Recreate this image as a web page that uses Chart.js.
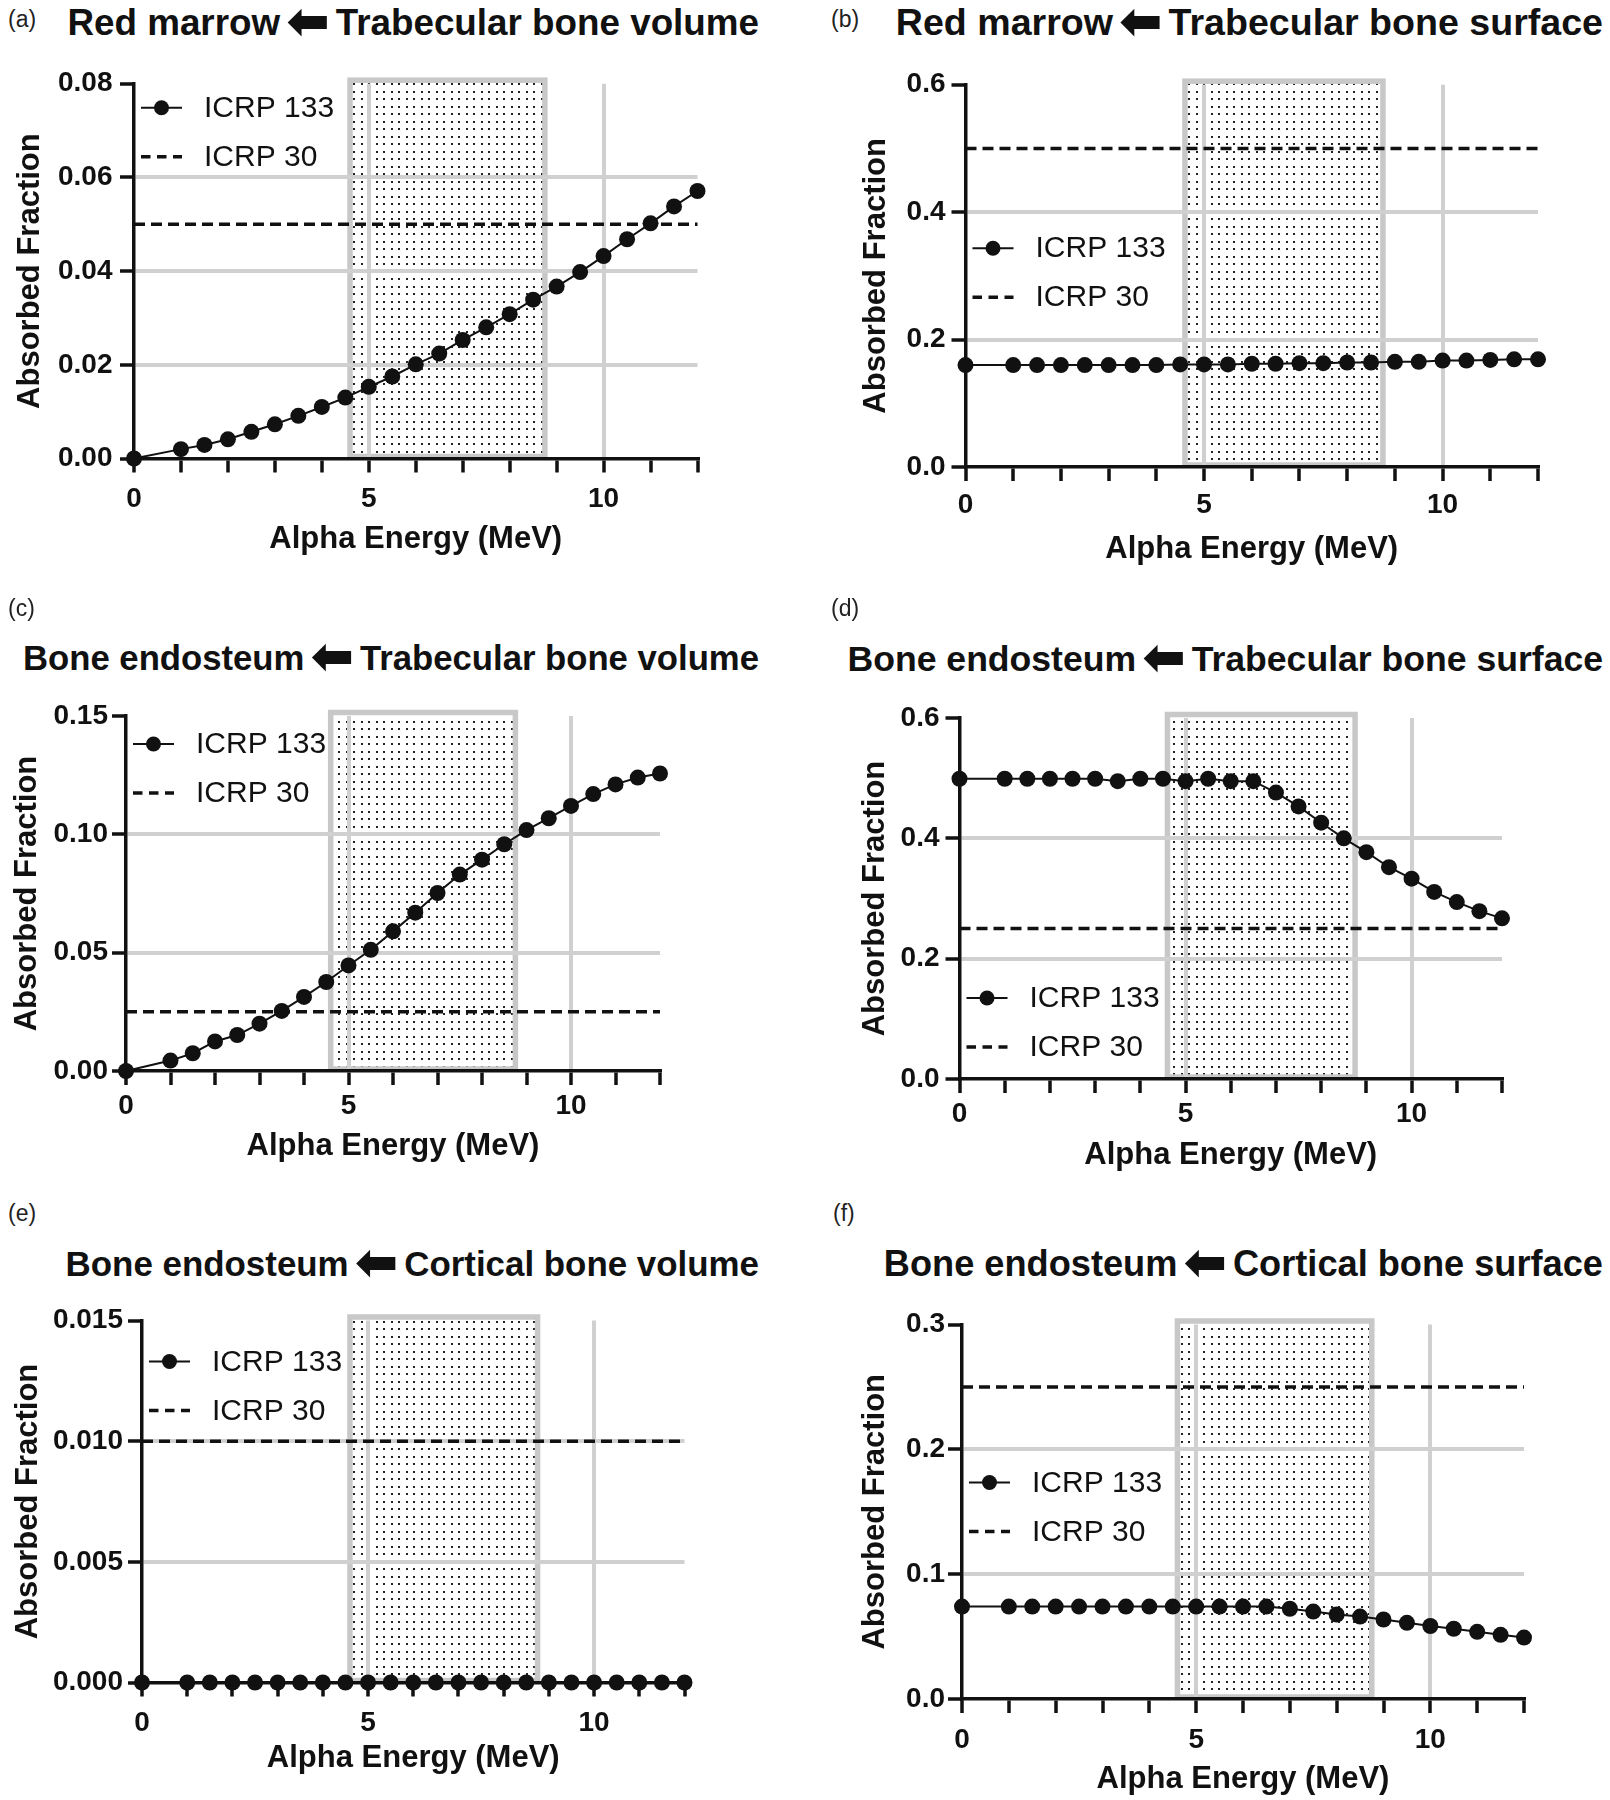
<!DOCTYPE html>
<html>
<head>
<meta charset="utf-8">
<title>Absorbed fractions, ICRP 133 vs ICRP 30</title>
<script src="https://cdn.jsdelivr.net/npm/chart.js@4.4.1/dist/chart.umd.min.js"></script>
<style>
  html, body { margin: 0; padding: 0; background: #fff; }
  body { width: 1610px; height: 1800px; position: relative; overflow: hidden;
         font-family: 'Liberation Sans', Arial, sans-serif; color: #111; }
  canvas { position: absolute; }
  .ttl { position: absolute; font-weight: bold; line-height: normal; white-space: nowrap; }
  .arr { font-family: 'DejaVu Sans'; font-size: 52px; line-height: 0; margin: 0 6px; position: relative; top: 4px; }
  .tag { position: absolute; font-size: 23px; line-height: normal; color: #222; }
</style>
</head>
<body>
<script>
// alpha energies (MeV) shared by every ICRP 133 series
const energies = [0, 1, 1.5, 2, 2.5, 3, 3.5, 4, 4.5, 5, 5.5, 6, 6.5, 7, 7.5, 8, 8.5, 9, 9.5, 10, 10.5, 11, 11.5, 12];

// ICRP 133 absorbed fractions, one array per panel
const rmTbVolume133 = [0, 0.0020, 0.0029, 0.0041, 0.0057, 0.0073, 0.0091, 0.0110, 0.0130, 0.0153, 0.0175, 0.0201,
  0.0224, 0.0253, 0.0280, 0.0308, 0.0339, 0.0367, 0.0398, 0.0432, 0.0468, 0.0502, 0.0538, 0.0571];
const rmTbSurface133 = [0.160, 0.160, 0.160, 0.160, 0.160, 0.160, 0.160, 0.160, 0.161, 0.161, 0.161, 0.162,
  0.162, 0.163, 0.163, 0.164, 0.164, 0.165, 0.165, 0.167, 0.167, 0.168, 0.169, 0.169];
const beTbVolume133 = [0, 0.0044, 0.0075, 0.0125, 0.0152, 0.0200, 0.0254, 0.0313, 0.0376, 0.0446, 0.0512, 0.0590,
  0.0669, 0.0752, 0.0830, 0.0893, 0.0958, 0.1018, 0.1068, 0.1120, 0.1170, 0.1211, 0.1240, 0.1257];
const beTbSurface133 = [0.499, 0.499, 0.499, 0.499, 0.499, 0.499, 0.495, 0.499, 0.499, 0.495, 0.499, 0.495,
  0.495, 0.476, 0.453, 0.426, 0.400, 0.377, 0.352, 0.333, 0.311, 0.294, 0.279, 0.267];
const beCbVolume133 = [0, 0, 0, 0, 0, 0, 0, 0, 0, 0, 0, 0, 0, 0, 0, 0, 0, 0, 0, 0, 0, 0, 0, 0];
const beCbSurface133 = [0.074, 0.074, 0.074, 0.074, 0.074, 0.074, 0.074, 0.074, 0.074, 0.074, 0.074, 0.074,
  0.074, 0.0723, 0.0700, 0.0677, 0.0660, 0.0637, 0.0610, 0.0585, 0.0563, 0.0538, 0.0514, 0.0492];

// ICRP 30 constant values, panels a-f
const icrp30Levels = [0.05, 0.5, 0.025, 0.25, 0.01, 0.25];

// y axis range / tick labels, panels a-f
const yMax = [0.08, 0.6, 0.15, 0.6, 0.015, 0.3];
const yStep = [0.02, 0.2, 0.05, 0.2, 0.005, 0.1];
const yDecimals = [2, 1, 2, 1, 3, 1];

// x axis: 0..12 MeV, minor ticks every 1, labels at 0, 5, 10
const xMin = 0, xMax = 12;
const xLabelled = [0, 5, 10];

// shaded alpha-energy window (MeV)
const alphaWindow = [4.6, 8.75];

const panelTags = ['(a)', '(b)', '(c)', '(d)', '(e)', '(f)'];
const titleFrom = ['Red marrow', 'Red marrow', 'Bone endosteum', 'Bone endosteum', 'Bone endosteum', 'Bone endosteum'];
const titleTo = ['Trabecular bone volume', 'Trabecular bone surface', 'Trabecular bone volume',
  'Trabecular bone surface', 'Cortical bone volume', 'Cortical bone surface'];
const seriesNames = ['ICRP 133', 'ICRP 30'];

const series133 = [rmTbVolume133, rmTbSurface133, beTbVolume133, beTbSurface133, beCbVolume133, beCbSurface133];

// page layout (pixels), not data
const panelBoxes = [
  { ox: 0,   oy: 0,    L: 134,   R: 697.5, T: 83.7,  B: 458.5, yTitleX: 30,   xTitleDy: 80.5, xPad: 9.8,  yPad: 7.5, legDy: 24,    titleR: 759,  titleBase: 35,     titleSize: 36.8, tagX: 8,   tagBase: 27 },
  { ox: 805, oy: 0,    L: 160.5, R: 733,   T: 84.7,  B: 467,   yTitleX: 71,   xTitleDy: 82,   xPad: 7.8,  yPad: 6,   legDy: 163.5, titleR: 1603, titleBase: 35,     titleSize: 37.6, tagX: 831, tagBase: 27 },
  { ox: 0,   oy: 600,  L: 126,   R: 660,   T: 116,   B: 471,   yTitleX: 27.6, xTitleDy: 75,   xPad: 4.8,  yPad: 4,   legDy: 28,    titleR: 759,  titleBase: 670.5,  titleSize: 34.7, tagX: 8,   tagBase: 616 },
  { ox: 805, oy: 600,  L: 154.5, R: 697,   T: 118,   B: 479,   yTitleX: 70,   xTitleDy: 76,   xPad: 4.8,  yPad: 6,   legDy: 280,   titleR: 1603, titleBase: 671,    titleSize: 35.6, tagX: 831, tagBase: 616 },
  { ox: 0,   oy: 1200, L: 142,   R: 684.5, T: 120.5, B: 482.5, yTitleX: 28,   xTitleDy: 75.5, xPad: 9.8,  yPad: 5,   legDy: 41,    titleR: 759,  titleBase: 1275.5, titleSize: 34.9, tagX: 8,   tagBase: 1221 },
  { ox: 805, oy: 1200, L: 157,   R: 719,   T: 124.5, B: 499,   yTitleX: 70,   xTitleDy: 80,   xPad: 10.8, yPad: 3,   legDy: 158,   titleR: 1603, titleBase: 1276,   titleSize: 36.2, tagX: 833, tagBase: 1221 }
];

const PANEL_W = 805, PANEL_H = 600;
const ink = '#111';
const gridGray = '#d0d0d0';
const boxGray = '#c8c8c8';
const FONT = "'Liberation Sans', Arial, sans-serif";
const AXIS_TITLE = 31, TICK_FONT = 28;

Chart.defaults.font.family = FONT;
Chart.defaults.color = ink;

// dotted fill for the energy window
function makeDots() {
  const c = document.createElement('canvas');
  c.width = 15; c.height = 15;
  const g = c.getContext('2d');
  g.fillStyle = '#222';
  [[1, 1], [8, 1], [1, 8], [8, 8]].forEach(([x, y]) => g.fillRect(x, y, 2, 2));
  return c;
}
const dotTile = makeDots();

const bandPlugin = {
  id: 'band',
  beforeDraw(chart) {
    const { ctx, chartArea, scales } = chart;
    const x1 = scales.x.getPixelForValue(alphaWindow[0]);
    const x2 = scales.x.getPixelForValue(alphaWindow[1]);
    const top = chartArea.top - 3.5;
    const bot = chartArea.bottom - 2;
    ctx.save();
    ctx.fillStyle = ctx.createPattern(dotTile, 'repeat');
    ctx.fillRect(x1, top, x2 - x1, bot - top);
    ctx.strokeStyle = boxGray;
    ctx.lineWidth = 5.5;
    ctx.strokeRect(x1, top, x2 - x1, bot - top);
    ctx.restore();
  }
};

const legendPlugin = {
  id: 'inlineLegend',
  afterDatasetsDraw(chart, args, opts) {
    const { ctx, chartArea } = chart;
    const x0 = chartArea.left;
    const y0 = chartArea.top + opts.dy;
    const y1 = y0 + 49;
    ctx.save();
    ctx.strokeStyle = ink;
    ctx.fillStyle = ink;
    ctx.lineWidth = 2;
    ctx.beginPath(); ctx.moveTo(x0 + 7, y0); ctx.lineTo(x0 + 48, y0); ctx.stroke();
    ctx.beginPath(); ctx.arc(x0 + 27.5, y0, 7.5, 0, Math.PI * 2); ctx.fill();
    ctx.lineWidth = 3.5;
    ctx.setLineDash([9.5, 6.5]);
    ctx.beginPath(); ctx.moveTo(x0 + 7, y1); ctx.lineTo(x0 + 48, y1); ctx.stroke();
    ctx.setLineDash([]);
    ctx.font = '30px ' + FONT;
    ctx.textAlign = 'left';
    ctx.textBaseline = 'middle';
    ctx.fillText(chart.data.datasets[0].label, x0 + 70, y0 + 1);
    ctx.fillText(chart.data.datasets[1].label, x0 + 70, y1 + 1);
    ctx.restore();
  }
};

panelBoxes.forEach((p, i) => {
  // panel tag
  const tag = document.createElement('div');
  tag.className = 'tag';
  tag.textContent = panelTags[i];
  tag.style.left = p.tagX + 'px';
  tag.style.top = (p.tagBase - 20.8) + 'px';
  document.body.appendChild(tag);

  // panel title
  const t = document.createElement('div');
  t.className = 'ttl';
  t.style.fontSize = p.titleSize + 'px';
  t.appendChild(document.createTextNode(titleFrom[i]));
  const arr = document.createElement('span');
  arr.className = 'arr';
  arr.textContent = '\u2B05';
  t.appendChild(arr);
  t.appendChild(document.createTextNode(titleTo[i]));
  t.style.right = (1610 - p.titleR) + 'px';
  t.style.top = (p.titleBase - 0.905 * p.titleSize) + 'px';
  document.body.appendChild(t);

  const cv = document.createElement('canvas');
  cv.width = PANEL_W; cv.height = PANEL_H;
  cv.style.left = p.ox + 'px';
  cv.style.top = p.oy + 'px';
  document.body.appendChild(cv);

  const half = AXIS_TITLE * 1.2 / 2;
  const padLeft = p.yTitleX - half;
  const xScaleH = p.xTitleDy + half;
  const ymax = yMax[i];

  new Chart(cv, {
    type: 'line',
    data: {
      datasets: [
        {
          label: seriesNames[0],
          data: energies.map((e, k) => ({ x: e, y: series133[i][k] })),
          borderColor: ink,
          backgroundColor: ink,
          borderWidth: 2,
          pointRadius: 8,
          pointBorderWidth: 0,
          pointBackgroundColor: ink,
          tension: 0,
          clip: false
        },
        {
          label: seriesNames[1],
          data: [{ x: xMin, y: icrp30Levels[i] }, { x: xMax, y: icrp30Levels[i] }],
          borderColor: ink,
          borderWidth: 3.5,
          borderDash: [11, 6],
          pointRadius: 0,
          clip: false
        }
      ]
    },
    options: {
      responsive: false,
      animation: false,
      devicePixelRatio: 1,
      events: [],
      layout: {
        padding: { left: padLeft, top: p.T, right: PANEL_W - p.R, bottom: PANEL_H - p.B - xScaleH }
      },
      plugins: {
        legend: { display: false },
        tooltip: { enabled: false },
        inlineLegend: { dy: p.legDy }
      },
      scales: {
        x: {
          type: 'linear',
          min: xMin,
          max: xMax,
          ticks: {
            stepSize: 1,
            autoSkip: false,
            maxRotation: 0,
            padding: p.xPad,
            color: ink,
            font: { size: TICK_FONT, weight: 'bold' },
            callback: v => xLabelled.includes(v) ? String(v) : ''
          },
          grid: {
            color: c => (c.tick && c.tick.value > 0 && xLabelled.includes(c.tick.value)) ? gridGray : 'rgba(0,0,0,0)',
            lineWidth: 4,
            tickColor: ink,
            tickWidth: 3.5,
            tickLength: 14
          },
          border: { color: ink, width: 3.5 },
          title: { display: true, text: 'Alpha Energy (MeV)', color: ink, padding: 0, font: { size: AXIS_TITLE, weight: 'bold' } },
          afterFit: s => { s.height = xScaleH; }
        },
        y: {
          min: 0,
          max: ymax,
          ticks: {
            stepSize: yStep[i],
            padding: p.yPad,
            color: ink,
            font: { size: TICK_FONT, weight: 'bold' },
            callback: v => Number(v).toFixed(yDecimals[i])
          },
          grid: {
            color: c => (c.tick && c.tick.value > 1e-9 && c.tick.value < ymax - 1e-9) ? gridGray : 'rgba(0,0,0,0)',
            lineWidth: 4,
            tickColor: ink,
            tickWidth: 3.5,
            tickLength: 14
          },
          border: { color: ink, width: 3.5 },
          title: { display: true, text: 'Absorbed Fraction', color: ink, padding: 0, font: { size: AXIS_TITLE, weight: 'bold' } },
          afterFit: s => { s.width = p.L - padLeft; }
        }
      }
    },
    plugins: [bandPlugin, legendPlugin]
  });
});
</script>
</body>
</html>
